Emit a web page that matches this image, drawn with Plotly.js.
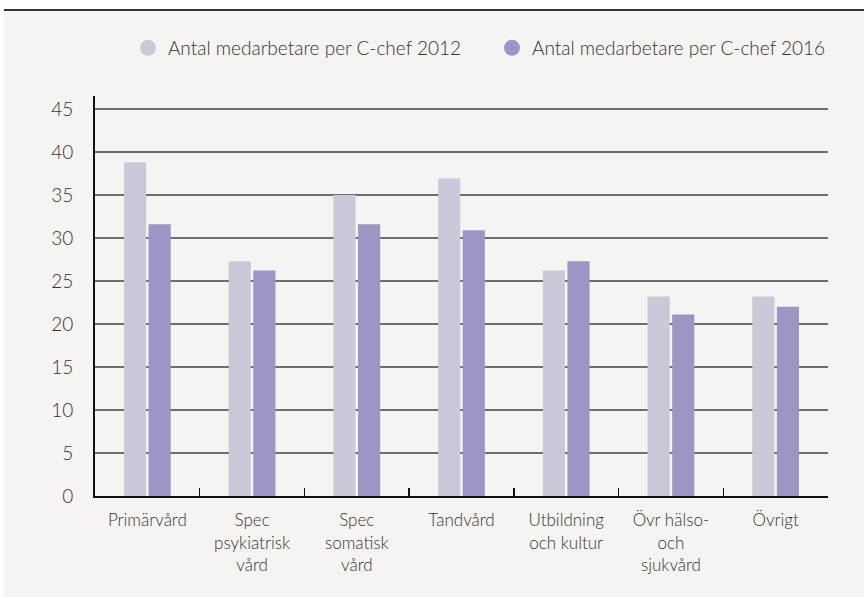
<!DOCTYPE html>
<html>
<head>
<meta charset="utf-8">
<script src="https://cdn.plot.ly/plotly-3.0.1.min.js"></script>
<style>
  html, body { margin: 0; padding: 0; background: #ffffff; width: 864px; height: 597px; overflow: hidden; }
  #chart { position: absolute; left: 4px; top: 9px; width: 860px; height: 588px; border-top: 2px solid #333333; box-sizing: border-box; }
</style>
</head>
<body>
<div id="chart"></div>
<script>
const categories = [
  "Primärvård",
  "Spec<br>psykiatrisk<br>vård",
  "Spec<br>somatisk<br>vård",
  "Tandvård",
  "Utbildning<br>och kultur",
  "Övr hälso-<br>och<br>sjukvård",
  "Övrigt"
];
const seriesNames = ["Antal medarbetare per C-chef 2012", "Antal medarbetare per C-chef 2016"];
const values2012 = [38.8, 27.3, 35.0, 36.9, 26.2, 23.2, 23.2];
const values2016 = [31.6, 26.2, 31.6, 30.9, 27.3, 21.1, 22.0];
const yTicks = [0, 5, 10, 15, 20, 25, 30, 35, 40, 45];

const colors = ["#cbc9d8", "#9d96c5"];
const fontFam = "Lato, 'Open Sans', sans-serif";

const traces = [
  { type: "bar", x: categories, y: values2012, name: seriesNames[0], marker: { color: colors[0] }, showlegend: false, hoverinfo: "y" },
  { type: "bar", x: categories, y: values2016, name: seriesNames[1], marker: { color: colors[1] }, showlegend: false, hoverinfo: "y" },
  { type: "scatter", mode: "markers", x: [null], y: [null], name: seriesNames[0], marker: { color: colors[0], size: 20, symbol: "circle" }, showlegend: true, legend: "legend" },
  { type: "scatter", mode: "markers", x: [null], y: [null], name: seriesNames[1], marker: { color: colors[1], size: 20, symbol: "circle" }, showlegend: true, legend: "legend2" }
];

const legendBase = {
  orientation: "h",
  xanchor: "left",
  y: 1.12, yanchor: "middle",
  font: { family: fontFam, size: 19, color: "#333333", weight: 300 },
  bgcolor: "rgba(0,0,0,0)",
  itemwidth: 30
};

const layout = {
  width: 860,
  height: 586,
  margin: { l: 91, r: 36, t: 85, b: 101 },
  paper_bgcolor: "#f5f4f2",
  plot_bgcolor: "#f5f4f2",
  font: { family: fontFam, color: "#333333", size: 15, weight: 300 },
  barmode: "group",
  bargap: 0.53,
  bargroupgap: 0.1,
  showlegend: true,
  legend: Object.assign({}, legendBase, { x: 0.045 }),
  legend2: Object.assign({}, legendBase, { x: 0.5416 }),
  xaxis: {
    type: "category",
    tickson: "boundaries",
    ticks: "inside",
    ticklen: 8,
    tickwidth: 1.5,
    tickcolor: "#111111",
    showline: true,
    linecolor: "#111111",
    linewidth: 2,
    showgrid: false,
    tickfont: { family: fontFam, size: 17, color: "#333333", weight: 300 },
    ticklabelstandoff: 8,
    fixedrange: true
  },
  yaxis: {
    range: [0, 46.5],
    tickvals: yTicks,
    ticktext: yTicks.map(String),
    showline: true,
    linecolor: "#111111",
    linewidth: 2,
    showgrid: true,
    gridcolor: "#6e6e6e",
    gridwidth: 1.5,
    zeroline: false,
    ticks: "",
    tickfont: { family: fontFam, size: 19, color: "#333333", weight: 300 },
    ticklabelstandoff: 16,
    fixedrange: true
  }
};

Plotly.newPlot("chart", traces, layout, { displayModeBar: false, staticPlot: true });
</script>
</body>
</html>
